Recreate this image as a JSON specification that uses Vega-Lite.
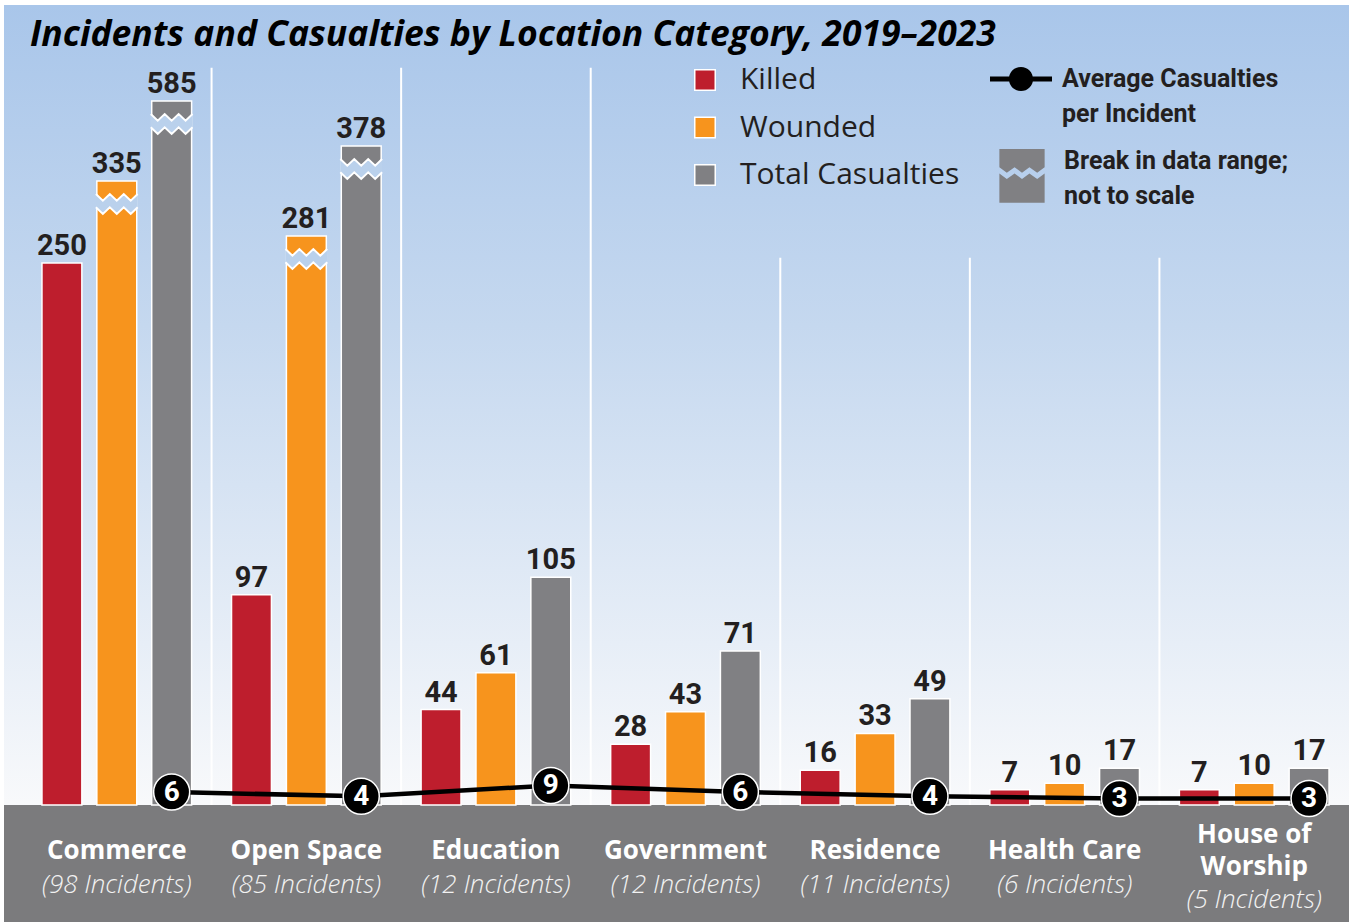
{
  "$schema": "https://vega.github.io/schema/vega-lite/v6.json",
  "width": 1345,
  "height": 917,
  "autosize": {"type": "none"},
  "padding": {"left": 4, "top": 5, "right": 0, "bottom": 0},
  "background": "white",
  "title": {
    "text": "Incidents and Casualties by Location Category, 2019–2023",
    "anchor": "start",
    "frame": "group",
    "offset": -48,
    "dx": 26,
    "font": "Open Sans",
    "fontSize": 35.5,
    "fontStyle": "italic",
    "fontWeight": "bold",
    "color": "#000000"
  },
  "config": {
    "view": {
      "stroke": null,
      "fill": {
        "gradient": "linear",
        "x1": 0, "y1": 0, "x2": 0, "y2": 1,
        "stops": [
          {"offset": 0, "color": "#a9c6ea"},
          {"offset": 0.35, "color": "#c5d8ef"},
          {"offset": 0.87, "color": "#f8f9fb"}
        ]
      }
    },
    "axis": {"disable": true},
    "style": {"guide-label": {"lineHeight": 35}}
  },
  "datasets": {
    "cats": [
      {"category": "Commerce", "name": "Commerce", "incidents": "(98  Incidents)", "avg": 6},
      {"category": "Open Space", "name": "Open Space", "incidents": "(85 Incidents)", "avg": 4},
      {"category": "Education", "name": "Education", "incidents": "(12 Incidents)", "avg": 9},
      {"category": "Government", "name": "Government", "incidents": "(12 Incidents)", "avg": 6},
      {"category": "Residence", "name": "Residence", "incidents": "(11 Incidents)", "avg": 4},
      {"category": "Health Care", "name": "Health Care", "incidents": "(6 Incidents)", "avg": 3},
      {"category": "House of Worship", "name": "House of\nWorship", "incidents": "(5 Incidents)", "avg": 3}
    ],
    "bars": [
      {"category": "Commerce", "series": "Killed", "value": 250, "broken": false},
      {"category": "Commerce", "series": "Wounded", "value": 335, "broken": true},
      {"category": "Commerce", "series": "Total Casualties", "value": 585, "broken": true},
      {"category": "Open Space", "series": "Killed", "value": 97, "broken": false},
      {"category": "Open Space", "series": "Wounded", "value": 281, "broken": true},
      {"category": "Open Space", "series": "Total Casualties", "value": 378, "broken": true},
      {"category": "Education", "series": "Killed", "value": 44, "broken": false},
      {"category": "Education", "series": "Wounded", "value": 61, "broken": false},
      {"category": "Education", "series": "Total Casualties", "value": 105, "broken": false},
      {"category": "Government", "series": "Killed", "value": 28, "broken": false},
      {"category": "Government", "series": "Wounded", "value": 43, "broken": false},
      {"category": "Government", "series": "Total Casualties", "value": 71, "broken": false},
      {"category": "Residence", "series": "Killed", "value": 16, "broken": false},
      {"category": "Residence", "series": "Wounded", "value": 33, "broken": false},
      {"category": "Residence", "series": "Total Casualties", "value": 49, "broken": false},
      {"category": "Health Care", "series": "Killed", "value": 7, "broken": false},
      {"category": "Health Care", "series": "Wounded", "value": 10, "broken": false},
      {"category": "Health Care", "series": "Total Casualties", "value": 17, "broken": false},
      {"category": "House of Worship", "series": "Killed", "value": 7, "broken": false},
      {"category": "House of Worship", "series": "Wounded", "value": 10, "broken": false},
      {"category": "House of Worship", "series": "Total Casualties", "value": 17, "broken": false}
    ]
  },
  "layer": [
    {
      "data": {"values": [{}]},
      "mark": {"type": "point", "filled": true, "fill": "#000000", "strokeWidth": 0, "size": 0, "opacity": 1},
      "encoding": {
        "x": {"datum": "Commerce", "type": "nominal", "axis": null,
          "scale": {"domain": ["Commerce", "Open Space", "Education", "Government", "Residence", "Health Care", "House of Worship"], "range": [18, 1345], "paddingInner": 0, "paddingOuter": 0}},
        "y": {"datum": -40, "type": "quantitative", "axis": null,
          "scale": {"type": "linear", "domain": [-54, 0, 250, 281, 335, 378, 585, 640], "range": [917, 800, 258, 231, 176, 141, 96, 0], "nice": false, "zero": false}},
        "shape": {"datum": "Average Casualties per Incident", "type": "nominal",
          "scale": {"domain": ["Average Casualties per Incident"], "range": ["M-1,-0.08H1V0.08H-1Z M-0.39,0A0.39,0.39 0 1 1 0.39,0A0.39,0.39 0 1 1 -0.39,0Z"]},
          "legend": {"orient": "none", "legendX": 986, "legendY": 43, "title": null, "symbolSize": 3844, "symbolStrokeWidth": 0,
            "labelOffset": 10, "labelFont": "Roboto", "labelFontWeight": "bold", "labelFontSize": 25,
            "labelColor": "#231f20", "padding": 0, "labelLimit": 400,
            "labelExpr": "['Average Casualties', 'per Incident']"}}
      }
    },
    {
      "data": {"values": [{}]},
      "mark": {"type": "point", "filled": true, "fill": "#808083", "stroke": "#ffffff", "strokeWidth": 1.5, "size": 0,
        "shape": "M-0.73,-0.39H0.73V0.2L0.49,0.38L0.24,0.2L0,0.38L-0.24,0.2L-0.49,0.38L-0.73,0.2Z M-0.73,0.4L-0.49,0.58L-0.24,0.4L0,0.58L0.24,0.4L0.49,0.58L0.73,0.4V1.35H-0.73Z"},
      "encoding": {
        "x": {"datum": "Commerce", "type": "nominal"},
        "y": {"datum": -40, "type": "quantitative"},
        "opacity": {"datum": "Break in data range; not to scale", "type": "ordinal",
          "scale": {"domain": ["Break in data range; not to scale"], "range": [1]},
          "legend": {"orient": "none", "legendX": 986, "legendY": 124, "title": null, "symbolSize": 3844,
            "symbolType": "M-0.73,-0.39H0.73V0.2L0.49,0.38L0.24,0.2L0,0.38L-0.24,0.2L-0.49,0.38L-0.73,0.2Z M-0.73,0.4L-0.49,0.58L-0.24,0.4L0,0.58L0.24,0.4L0.49,0.58L0.73,0.4V1.35H-0.73Z",
            "symbolFillColor": "#808083", "symbolStrokeColor": "#ffffff", "symbolStrokeWidth": 1.5,
            "labelOffset": 10, "labelFont": "Roboto", "labelFontWeight": "bold", "labelFontSize": 25,
            "labelColor": "#231f20", "padding": 0, "labelLimit": 400,
            "labelExpr": "['Break in data range;', 'not to scale']"}}
      }
    },
    {
      "data": {"values": [{}]},
      "mark": {"type": "rect", "fill": "#7b7b7d"},
      "encoding": {
        "y": {"datum": -54, "type": "quantitative"},
        "y2": {"datum": 0}
      }
    },
    {
      "data": {"name": "cats"},
      "transform": [{"filter": {"field": "category", "oneOf": ["Open Space", "Education", "Government"]}}],
      "mark": {"type": "rule", "stroke": "white", "strokeWidth": 2},
      "encoding": {
        "x": {"field": "category", "type": "nominal", "bandPosition": 0},
        "y": {"datum": 604, "type": "quantitative"},
        "y2": {"datum": 0}
      }
    },
    {
      "data": {"name": "cats"},
      "transform": [{"filter": {"field": "category", "oneOf": ["Residence", "Health Care", "House of Worship"]}}],
      "mark": {"type": "rule", "stroke": "white", "strokeWidth": 2},
      "encoding": {
        "x": {"field": "category", "type": "nominal", "bandPosition": 0},
        "y": {"datum": 256, "type": "quantitative"},
        "y2": {"datum": 0}
      }
    },
    {
      "data": {"name": "bars"},
      "mark": {"type": "bar", "stroke": "white", "strokeWidth": 1.5, "opacity": 1},
      "encoding": {
        "x": {"field": "category", "type": "nominal"},
        "xOffset": {"field": "series", "type": "nominal",
          "scale": {"domain": ["Killed", "Wounded", "Total Casualties"], "paddingInner": 0.2727, "paddingOuter": 0.3636}},
        "y": {"field": "value", "type": "quantitative"},
        "color": {"field": "series", "type": "nominal",
          "scale": {"domain": ["Killed", "Wounded", "Total Casualties"], "range": ["#be1e2d", "#f7941d", "#808083"]},
          "legend": {"orient": "none", "legendX": 686, "legendY": 60, "title": null, "symbolType": "square", "symbolSize": 420,
            "symbolStrokeColor": "white", "symbolStrokeWidth": 1.5, "symbolOpacity": 1,
            "labelFont": "Open Sans", "labelFontSize": 30, "labelColor": "#231f20", "labelOffset": 20,
            "rowPadding": 17.5, "padding": 0, "labelLimit": 400}}
      }
    },
    {
      "data": {"name": "bars"},
      "mark": {"type": "text", "font": "Roboto", "fontWeight": "bold", "fontSize": 29, "fill": "#231f20", "baseline": "alphabetic", "dy": -8},
      "encoding": {
        "x": {"field": "category", "type": "nominal"},
        "xOffset": {"field": "series", "type": "nominal"},
        "y": {"field": "value", "type": "quantitative"},
        "text": {"field": "value", "type": "quantitative"}
      }
    },
    {
      "data": {"name": "bars"},
      "transform": [{"filter": "datum.broken"}],
      "mark": {"type": "point", "filled": true, "fill": "#bad1ec", "strokeWidth": 0, "opacity": 1, "size": 1936, "yOffset": 23,
        "shape": "M-0.95,-0.45L-0.633,-0.15L-0.317,-0.45L0,-0.15L0.317,-0.45L0.633,-0.15L0.95,-0.45L0.95,0.15L0.633,0.45L0.317,0.15L0,0.45L-0.317,0.15L-0.633,0.45L-0.95,0.15Z"},
      "encoding": {
        "x": {"field": "category", "type": "nominal"},
        "xOffset": {"field": "series", "type": "nominal"},
        "y": {"field": "value", "type": "quantitative"}
      }
    },
    {
      "data": {"name": "bars"},
      "transform": [{"filter": "datum.broken"}],
      "mark": {"type": "point", "filled": false, "stroke": "white", "strokeWidth": 2, "opacity": 1, "size": 1936, "yOffset": 23,
        "shape": "M-0.95,-0.45L-0.633,-0.15L-0.317,-0.45L0,-0.15L0.317,-0.45L0.633,-0.15L0.95,-0.45M-0.95,0.15L-0.633,0.45L-0.317,0.15L0,0.45L0.317,0.15L0.633,0.45L0.95,0.15"},
      "encoding": {
        "x": {"field": "category", "type": "nominal"},
        "xOffset": {"field": "series", "type": "nominal"},
        "y": {"field": "value", "type": "quantitative"}
      }
    },
    {
      "data": {"name": "cats"},
      "mark": {"type": "line", "stroke": "black", "strokeWidth": 4.5},
      "encoding": {
        "x": {"field": "category", "type": "nominal"},
        "xOffset": {"datum": "Total Casualties", "type": "nominal"},
        "y": {"field": "avg", "type": "quantitative"}
      }
    },
    {
      "data": {"name": "cats"},
      "mark": {"type": "point", "shape": "circle", "filled": true, "fill": "black", "stroke": "white", "strokeWidth": 1.5, "size": 1300, "opacity": 1},
      "encoding": {
        "x": {"field": "category", "type": "nominal"},
        "xOffset": {"datum": "Total Casualties", "type": "nominal"},
        "y": {"field": "avg", "type": "quantitative"}
      }
    },
    {
      "data": {"name": "cats"},
      "mark": {"type": "text", "font": "Roboto", "fontWeight": "bold", "fontSize": 28, "fill": "white", "baseline": "middle", "dy": 1},
      "encoding": {
        "x": {"field": "category", "type": "nominal"},
        "xOffset": {"datum": "Total Casualties", "type": "nominal"},
        "y": {"field": "avg", "type": "quantitative"},
        "text": {"field": "avg", "type": "quantitative"}
      }
    },
    {
      "data": {"name": "cats"},
      "mark": {"type": "text", "font": "Open Sans", "fontWeight": "bold", "fontSize": 26, "fill": "white", "baseline": "middle", "lineBreak": "\n", "lineHeight": 32,
        "dy": {"expr": "indexof(datum.name, '\\n') >= 0 ? -16 : 0"}},
      "encoding": {
        "x": {"field": "category", "type": "nominal"},
        "y": {"datum": -21.2, "type": "quantitative"},
        "text": {"field": "name", "type": "nominal"}
      }
    },
    {
      "data": {"name": "cats"},
      "mark": {"type": "text", "font": "Open Sans", "fontStyle": "italic", "fontWeight": 300, "fontSize": 26, "fill": "#f2f2f2", "baseline": "middle",
        "dy": {"expr": "indexof(datum.name, '\\n') >= 0 ? 15 : 0"}},
      "encoding": {
        "x": {"field": "category", "type": "nominal"},
        "y": {"datum": -36.8, "type": "quantitative"},
        "text": {"field": "incidents", "type": "nominal"}
      }
    }
  ]
}
